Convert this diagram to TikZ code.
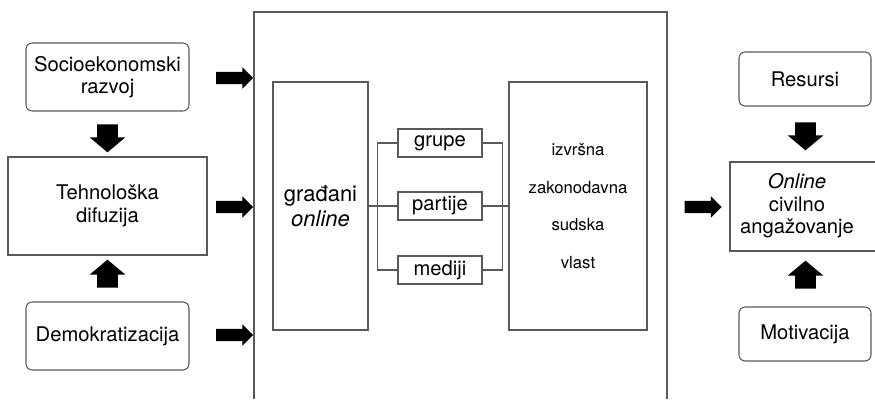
\documentclass[tikz,border=0pt]{standalone}
\usepackage{fontspec}
\setmainfont{TeX Gyre Heros}
\usetikzlibrary{shapes.arrows}

\begin{document}
\begin{tikzpicture}[x=0.02cm, y=-0.02cm, font=\fontsize{11.5}{12.8}\selectfont]
\tikzstyle{rbox}=[rectangle, rounded corners=3.5pt, draw=black!65, line width=0.6pt, align=center]
\tikzstyle{sbox}=[rectangle, draw=black!65, line width=0.6pt, align=center]
\tikzstyle{link}=[draw=black!65, line width=0.6pt]
\tikzstyle{harrow}=[single arrow, fill=black, inner xsep=0pt, inner ysep=0.115cm, single arrow head extend=0.09cm, minimum height=0.74cm]
\tikzstyle{varrow}=[single arrow, fill=black, inner xsep=0pt, inner ysep=0.2cm, single arrow head extend=0.15cm, single arrow tip angle=100, minimum height=0.56cm]
%
\useasboundingbox (0,0) rectangle (875,399);
%
% left column
\node [rbox, minimum width=3.26cm, minimum height=1.36cm] (socio) at (107.5,77) {Socioekonomski\\razvoj};
\node [varrow, rotate=-90] (dn1) at (107.5,134) {};
\node [sbox, minimum width=3.98cm, minimum height=1.96cm] (tehno) at (107.5,206) {Tehnološka\\difuzija};
\node [varrow, rotate=90] (up1) at (107.5,278) {};
\node [rbox, minimum width=3.26cm, minimum height=1.36cm] (demo) at (107.5,336) {Demokratizacija};
\node [harrow] (in1) at (231.5,78) {};
\node [harrow] (in2) at (231.5,207) {};
\node [harrow] (in3) at (231.5,335) {};
%
% middle frame
\draw [link] (254,399) -- (254,12) -- (667,12) -- (667,399);
\node [sbox, minimum width=1.9cm, minimum height=4.96cm, font=\fontsize{12.5}{14}\selectfont] (gradjani) at (320.5,206) {građani\\\textit{online}};
\node [sbox, minimum width=1.68cm, minimum height=0.56cm, inner sep=0pt] (grupe) at (440,143) {grupe};
\node [sbox, minimum width=1.68cm, minimum height=0.56cm, inner sep=0pt] (partije) at (440,206) {partije};
\node [sbox, minimum width=1.68cm, minimum height=0.56cm, inner sep=0pt] (mediji) at (440,270) {mediji};
\node [sbox, minimum width=2.76cm, minimum height=4.96cm, font=\fontsize{9.5}{21.4}\selectfont] (vlast) at (578,206) {izvršna\\zakonodavna\\sudska\\vlast};
\draw [link] (gradjani.east) -- (partije.west);
\draw [link] (grupe.west) -- ++(-20,0) |- (mediji.west);
\draw [link] (partije.east) -- (vlast.west);
\draw [link] (grupe.east) -- ++(20,0) |- (mediji.east);
%
% right column
\node [harrow] (out1) at (700,207) {};
\node [rbox, minimum width=2.64cm, minimum height=1.08cm] (resursi) at (805,79) {Resursi};
\node [varrow, rotate=-90] (dn2) at (805.5,132) {};
\draw [link] (885,162) -- (730,162) -- (730,251) -- (885,251);
\node [align=center] (online) at (797,206) {\textit{Online}\\civilno\\angažovanje};
\node [varrow, rotate=90] (up2) at (805.5,279) {};
\node [rbox, minimum width=2.64cm, minimum height=1.08cm] (motiv) at (805,334) {Motivacija};
%
\end{tikzpicture}
\end{document}
